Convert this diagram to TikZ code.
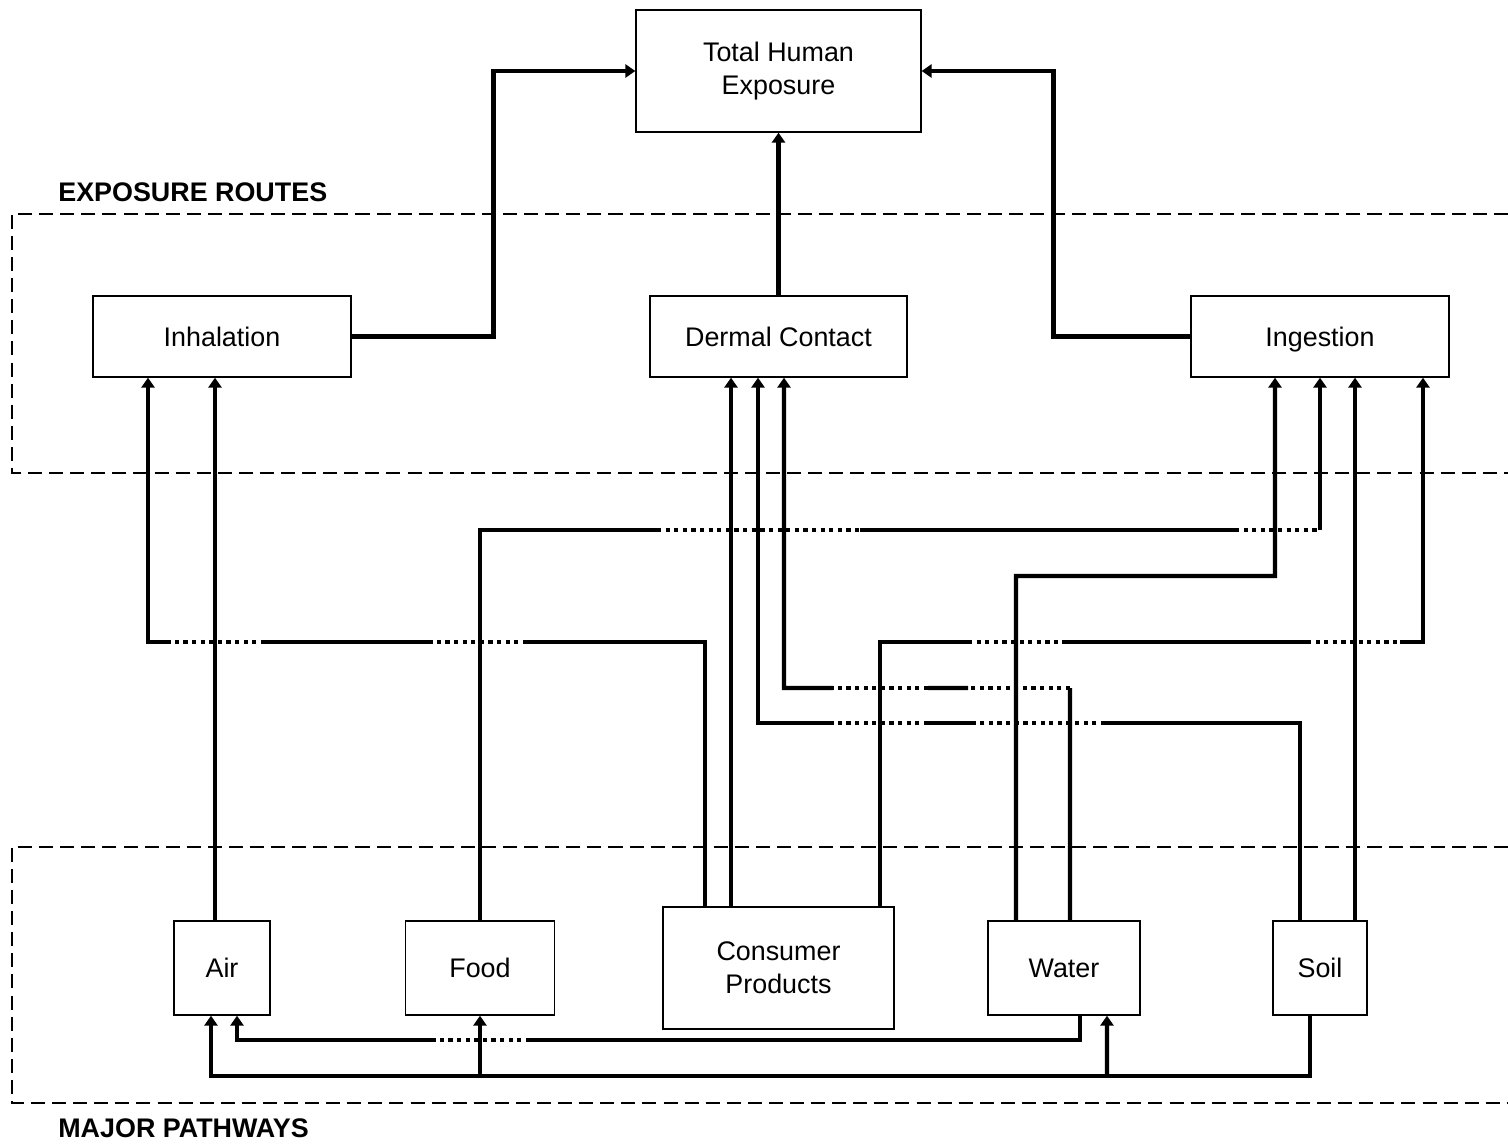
\documentclass[tikz,border=0pt]{standalone}
\usepackage{fontspec}
\setmainfont{Liberation Sans}
\usetikzlibrary{arrows.meta}

\begin{document}
\begin{tikzpicture}[x=0.02cm, y=-0.02cm,
    font=\fontsize{15.3}{18.7}\selectfont,
    box/.style={draw, rectangle, line width=0.8pt, align=center, inner sep=0pt},
    zone/.style={line width=1.5pt, dash pattern=on 8pt off 4pt},
    zonelabel/.style={anchor=west, inner sep=0pt, font=\fontsize{15.3}{18.7}\selectfont\bfseries},
    link/.style={line width=2.5pt, -{Triangle[width=7.5pt,length=5.7pt]}},
    hop/.style={-, dash pattern=on 2.4pt off 2.5pt}]
    \useasboundingbox (0,0) rectangle (1508,1143);

    % zones
    \draw[zone] (1508,214) -- (12,214) -- (12,473) -- (1508,473);
    \draw[zone] (1508,847) -- (12,847) -- (12,1103) -- (1508,1103);
    \node[zonelabel] (routes) at (58,192) {EXPOSURE ROUTES};
    \node[zonelabel] (pathways) at (58,1128) {MAJOR PATHWAYS};

    % boxes
    \node[box, minimum width=5.7cm, minimum height=2.44cm] (total) at (778.5,71) {Total Human\\Exposure};
    \node[box, minimum width=5.16cm, minimum height=1.62cm] (inh) at (222,336.5) {Inhalation};
    \node[box, minimum width=5.14cm, minimum height=1.62cm] (derm) at (778.5,336.5) {Dermal Contact};
    \node[box, minimum width=5.16cm, minimum height=1.62cm, text depth=0pt] (ing) at (1320,336.5) {Ingestion};
    \node[box, minimum width=1.92cm, minimum height=1.88cm] (air) at (222,968) {Air};
    \node[box, minimum width=2.98cm, minimum height=1.88cm] (food) at (480,968) {Food};
    \node[box, minimum width=4.62cm, minimum height=2.44cm] (cp) at (778.5,968) {Consumer\\Products};
    \node[box, minimum width=3.04cm, minimum height=1.88cm] (water) at (1064,968) {Water};
    \node[box, minimum width=1.88cm, minimum height=1.88cm] (soil) at (1320,968) {Soil};

    % routes to total exposure
    \draw[link] (inh.east) -- ++(142,0) |- (total.west);
    \draw[link] (derm.north) -- (total.south);
    \draw[link] (ing.west) -- ++(-137,0) |- (total.east);

    % into inhalation
    \draw[link] ([xshift=-0.14cm]air.north) -- ([xshift=-0.14cm]inh.south);
    \draw[link] ([xshift=-1.47cm]cp.north) |- (527,642) edge[hop] (432,642)
        (432,642) -- (265,642) edge[hop] (170,642)
        (170,642) -| ([xshift=-1.48cm]inh.south);

    % into dermal contact
    \draw[link] ([xshift=-0.95cm]cp.north) -- ([xshift=-0.95cm]derm.south);
    \draw[link] ([xshift=-0.4cm]soil.north) |- (1105,723) edge[hop] (975,723)
        (975,723) -- (928,723) edge[hop] (833,723)
        (833,723) -| ([xshift=-0.41cm]derm.south);
    \draw[link] ([xshift=0.12cm]water.north) -- (1070,688) edge[hop] (968,688)
        (968,688) -- (928,688) edge[hop] (833,688)
        (833,688) -| ([xshift=0.11cm]derm.south);

    % into ingestion
    \draw[link] (food.north) |- (657,530) edge[hop] (860,530)
        (860,530) -- (1235,530) edge[hop] (1320,530)
        (1320,530) -- (ing.south);
    \draw[link] ([xshift=-0.96cm]water.north) |- (1275,576) -- ([xshift=-0.9cm]ing.south);
    \draw[link] ([xshift=0.7cm]soil.north) -- ([xshift=0.7cm]ing.south);
    \draw[link] ([xshift=2.03cm]cp.north) |- (968,642) edge[hop] (1062,642)
        (1062,642) -- (1307,642) edge[hop] (1400,642)
        (1400,642) -| ([xshift=2.06cm]ing.south);

    % between pathways
    \draw[link] ([xshift=0.32cm]water.south) |- (530,1040) edge[hop] (435,1040)
        (435,1040) -| ([xshift=0.3cm]air.south);
    \draw[link] ([xshift=-0.2cm]soil.south) -- ++(0,60) -| ([xshift=-0.22cm]air.south);
    \coordinate (jfood) at (480,1075);
    \coordinate (jwater) at (1107,1075);
    \draw[link] (jfood) -- (food.south);
    \draw[link] (jwater) -- ([xshift=0.86cm]water.south);
\end{tikzpicture}
\end{document}
